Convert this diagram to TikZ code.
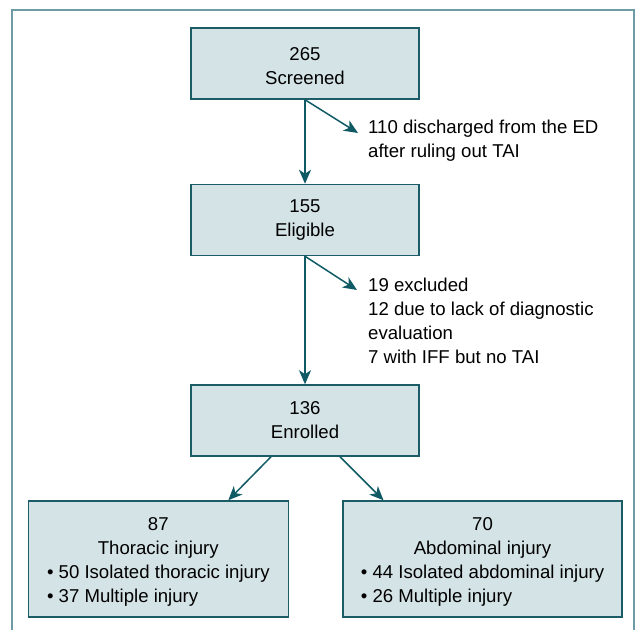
\documentclass[tikz,border=0pt]{standalone}
\usepackage{fontspec}
\setmainfont{Liberation Sans}
\usetikzlibrary{arrows.meta,calc}
\definecolor{boxfill}{HTML}{D4E3E6}
\definecolor{boxline}{HTML}{1B5C66}
\definecolor{arrowc}{HTML}{0F5A64}
\definecolor{framec}{HTML}{6F9CA4}
\tikzset{
  stage/.style={draw=boxline,fill=boxfill,line width=1.5pt,minimum width=228pt,minimum height=71pt,align=center,inner sep=0pt},
  group/.style={stage,minimum height=116pt},
  note/.style={anchor=west,align=left,inner sep=0pt},
  flow/.style={draw=arrowc,line width=1.5pt,->}
}
\begin{document}
\begin{tikzpicture}[x=1pt,y=-1pt,font=\fontsize{18.6}{24}\selectfont,>={Stealth[length=14pt,width=12pt,inset=4pt]}]
			\useasboundingbox (0,0) rectangle (639,629);
			\draw[framec,line width=1.5pt] (12,640)--(12,10)--(634,10)--(634,640);
			\node[stage] (scr) at (305,63.5) {\rule{0pt}{18pt}265\\Screened};
			\node[stage] (eli) at (305,220) {155\\Eligible};
			\node[stage] (enr) at (305,420.5) {136\\Enrolled};
			\node[group,minimum width=260pt] (tho) at (158.3,559) {\rule{0pt}{23pt}87\\Thoracic injury\\
				\begin{tabular}[t]{@{}l@{}}• 50 Isolated thoracic injury\\• 37 Multiple injury\end{tabular}};
			\node[group,minimum width=279pt] (abd) at (482.5,559) {\rule{0pt}{23pt}70\\Abdominal injury\\
				\begin{tabular}[t]{@{}l@{}}• 44 Isolated abdominal injury\\• 26 Multiple injury\end{tabular}};
			\node[note] (dis) at (368,141) {110 discharged from the ED\\after ruling out TAI};
			\node[note] (exc) at (368,321) {19 excluded\\12 due to lack of diagnostic\\evaluation\\7 with IFF but no TAI};
			\coordinate (d1) at (358,133);
			\coordinate (d2) at (357,290);
			\draw[flow] (scr.south)--(eli.north);
			\draw[flow] (eli.south)--(enr.north);
			\draw[flow] (scr.south)--(d1);
			\draw[flow] (eli.south)--(d2);
			\draw[flow] ($(enr.south)+(-34,0)$)--($(tho.north)+(70,0)$);
			\draw[flow] ($(enr.south)+(35,0)$)--($(abd.north)+(-99,0)$);
		\end{tikzpicture}
\end{document}
